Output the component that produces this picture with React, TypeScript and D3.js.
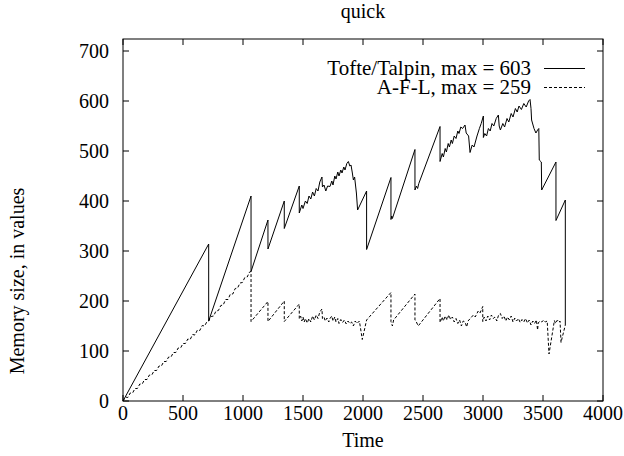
import React from "react";
import * as d3 from "d3";

const title = "quick";
const xLabel = "Time";
const yLabel = "Memory size, in values";
const xTicks = [0, 500, 1000, 1500, 2000, 2500, 3000, 3500, 4000];
const yTicks = [0, 100, 200, 300, 400, 500, 600, 700];
const seriesNames = ["Tofte/Talpin, max = 603", "A-F-L, max = 259"];

const ttTime = [
  0, 714, 714, 1067, 1067, 1208, 1208, 1344, 1344, 1469, 1469,
  1490, 1500, 1520, 1535, 1550, 1565, 1580, 1595, 1610, 1625, 1640, 1658, 1662, 1675, 1690, 1705, 1725,
  1740, 1750, 1765, 1775, 1790, 1800, 1815, 1825, 1840, 1850, 1865, 1878, 1890, 1900, 1910, 1920, 1930, 1945, 1955,
  2030, 2030, 2233, 2233, 2240, 2245, 2433, 2433, 2445, 2455, 2465, 2642, 2642,
  2660, 2670, 2685, 2695, 2710, 2720, 2735, 2745, 2760, 2775, 2790, 2800, 2815, 2830, 2850, 2860, 2880, 2892,
  2910, 2925, 2950, 2970, 2985, 3003, 3003, 3015, 3030, 3045, 3060, 3075, 3090, 3110, 3128, 3135, 3145,
  3165, 3180, 3200, 3215, 3235, 3250, 3270, 3285, 3300, 3320, 3340, 3360, 3380, 3392, 3400, 3405, 3425, 3441,
  3455, 3465, 3469, 3486, 3489, 3608, 3608, 3686, 3686,
];
const ttValue = [
  0, 314, 160, 410, 259, 362, 304, 400, 345, 430, 376,
  392, 385, 400, 395, 410, 404, 418, 410, 425, 420, 438, 448, 428, 432, 420, 430, 429,
  440, 432, 450, 444, 458, 450, 462, 456, 468, 462, 475, 479, 470, 472, 458, 442, 448, 416, 382,
  420, 303, 447, 363, 370, 365, 503, 422, 430, 425, 435, 549, 479,
  495, 488, 505, 498, 515, 508, 522, 515, 530, 525, 540, 535, 548, 545, 552, 536, 530, 497,
  512, 508, 530, 545, 555, 570, 527, 535, 530, 545, 540, 555, 550, 565, 572, 550, 542,
  555, 548, 565, 558, 575, 568, 585, 578, 590, 583, 595, 588, 600, 603, 585, 562, 545, 536,
  542, 545, 482, 478, 422, 478, 361, 402, 152,
];

const aflTime = [
  0, 20, 40, 60, 80, 100, 120, 140, 160, 180, 200, 220, 240, 260, 280, 300, 320, 340, 360, 380, 400,
  420, 440, 460, 480, 500, 520, 540, 560, 580, 600, 620, 640, 660, 680, 700, 714,
  735, 755, 775, 795, 815, 835, 855, 875, 895, 915, 935, 955, 975, 995, 1015, 1035, 1055, 1067, 1067,
  1208, 1208, 1344, 1344, 1469, 1469,
  1480, 1490, 1500, 1510, 1520, 1535, 1550, 1565, 1580, 1595, 1610, 1625, 1640, 1658, 1662, 1675, 1685, 1700, 1715,
  1725, 1740, 1750, 1765, 1775, 1790, 1800, 1815, 1830, 1845, 1860, 1875, 1890, 1905, 1920, 1935, 1950, 1970, 1994,
  2030, 2233, 2233, 2245, 2255, 2433, 2433, 2445, 2460, 2642, 2642,
  2660, 2670, 2685, 2700, 2715, 2730, 2745, 2760, 2775, 2790, 2805, 2820, 2835, 2850, 2864, 2875,
  2920, 2935, 2960, 2975, 2998, 2998,
  3010, 3025, 3040, 3055, 3070, 3085, 3100, 3115, 3130, 3145, 3160, 3175, 3190, 3205, 3220, 3235, 3250, 3265, 3280,
  3295, 3310, 3325, 3340, 3355, 3370, 3385, 3400, 3415, 3430, 3445, 3455, 3460, 3475, 3490, 3505, 3520, 3535,
  3550, 3595, 3605, 3620, 3635, 3642, 3650, 3686,
];
const aflValue = [
  0, 8, 7, 16, 16, 25, 25, 34, 34, 43, 43, 52, 52, 61, 61, 70, 70, 79, 79, 88, 88,
  97, 97, 106, 106, 115, 115, 124, 123, 133, 132, 142, 141, 151, 150, 159, 160,
  169, 170, 180, 181, 191, 192, 203, 203, 214, 214, 225, 226, 236, 237, 247, 248, 258, 259, 159,
  199, 159, 200, 159, 194, 165,
  170, 160, 168, 158, 165, 156, 165, 158, 170, 162, 172, 165, 178, 184, 165, 168, 160, 166, 158,
  165, 170, 160, 168, 158, 165, 155, 163, 157, 162, 154, 160, 155, 158, 150, 160, 155, 160, 123,
  162, 217, 159, 150, 162, 214, 162, 158, 150, 205, 157,
  168, 160, 170, 162, 172, 163, 168, 158, 165, 155, 162, 150, 160, 158, 148, 160,
  172, 168, 180, 176, 189, 159,
  168, 160, 170, 162, 172, 165, 168, 160, 172, 175, 165, 170, 160, 168, 162, 170, 158, 166, 160,
  165, 157, 163, 158, 165, 156, 162, 152, 160, 155, 162, 142, 156, 160, 158, 162, 158, 160,
  94, 161, 155, 162, 158, 160, 117, 152,
];

const W = 624;
const H = 456;
const left = 123;
const right = 603;
const top = 39;
const bottom = 401;
const FONT = "Liberation Serif, Times New Roman, DejaVu Serif, serif";
const FS = 20;

export default function App() {
  const x = d3.scaleLinear().domain([0, 4000]).range([left, right]);
  const y = d3.scaleLinear().domain([0, 724]).range([bottom, top]);
  const line = d3
    .line<[number, number]>()
    .x((d) => x(d[0]))
    .y((d) => y(d[1]));
  const tt = ttTime.map((t, i) => [t, ttValue[i]] as [number, number]);
  const afl = aflTime.map((t, i) => [t, aflValue[i]] as [number, number]);
  const tl = 6;

  return (
    <svg
      width={W}
      height={H}
      style={{ position: "absolute", left: 0, top: 0, background: "#fff", fontFamily: FONT, fontSize: FS }}
    >
      <rect x={0} y={0} width={W} height={H} fill="#fff" />
      {yTicks.map((v) => (
        <g key={"y" + v}>
          <line x1={left} x2={left + tl} y1={y(v)} y2={y(v)} stroke="#000" />
          <line x1={right} x2={right - tl} y1={y(v)} y2={y(v)} stroke="#000" />
          <text x={left - 14} y={y(v)} dy="0.35em" textAnchor="end">
            {v}
          </text>
        </g>
      ))}
      {xTicks.map((v) => (
        <g key={"x" + v}>
          <line x1={x(v)} x2={x(v)} y1={bottom} y2={bottom - tl} stroke="#000" />
          <line x1={x(v)} x2={x(v)} y1={top} y2={top + tl} stroke="#000" />
          <text x={x(v)} y={420} textAnchor="middle">
            {v}
          </text>
        </g>
      ))}
      <rect
        x={left}
        y={top}
        width={right - left}
        height={bottom - top}
        fill="none"
        stroke="#000"
      />
      <text x={(left + right) / 2} y={18} textAnchor="middle">
        {title}
      </text>
      <text x={(left + right) / 2} y={447} textAnchor="middle">
        {xLabel}
      </text>
      <text transform={`translate(24, 281) rotate(-90)`} textAnchor="middle">
        {yLabel}
      </text>
      <path d={line(afl) || ""} fill="none" stroke="#000" strokeWidth={1} strokeDasharray="3,2" />
      <path d={line(tt) || ""} fill="none" stroke="#000" strokeWidth={1} />
      <g fontSize={21}>
        <text x={531} y={75} textAnchor="end">
          {seriesNames[0]}
        </text>
        <text x={531} y={94} textAnchor="end">
          {seriesNames[1]}
        </text>
      </g>
      <line x1={544} x2={585} y1={68.5} y2={68.5} stroke="#000" />
      <line x1={544} x2={585} y1={87.5} y2={87.5} stroke="#000" strokeDasharray="3,2" />
    </svg>
  );
}
